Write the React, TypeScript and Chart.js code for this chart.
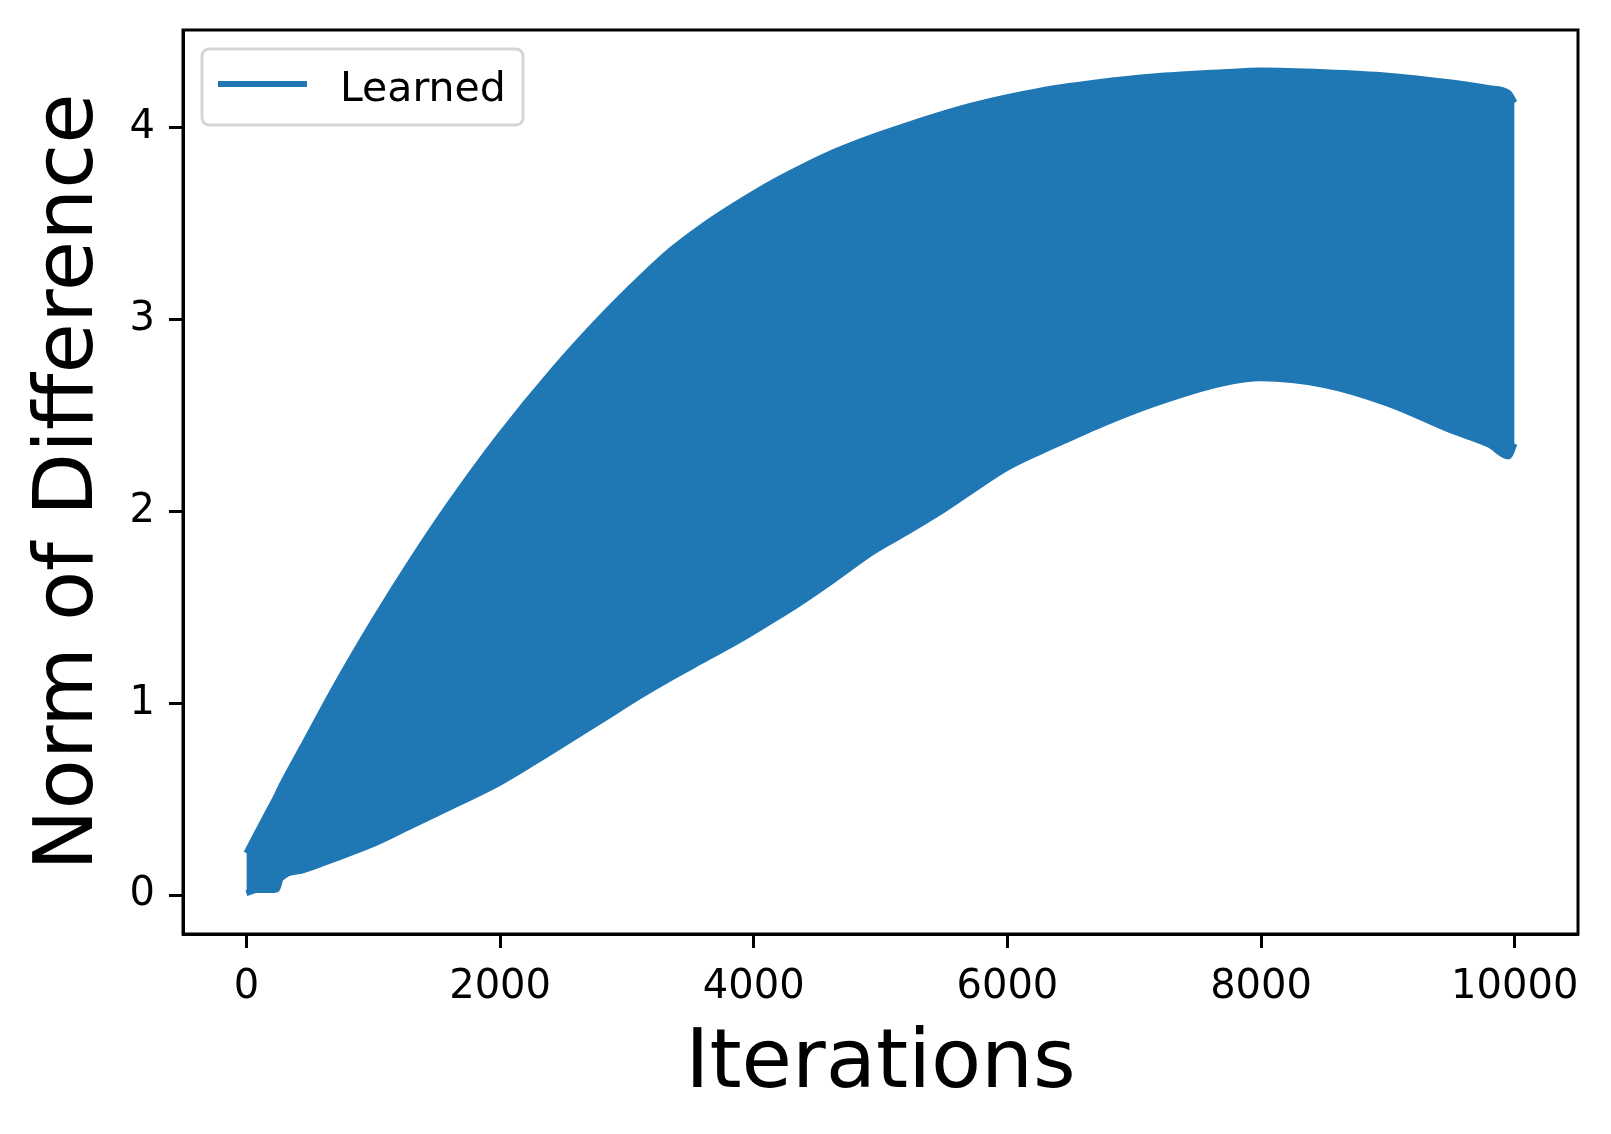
import React, { useEffect, useRef } from "react";
import { Chart, registerables } from "chart.js";

Chart.register(...registerables);

// ---- data (envelope of the oscillating "Learned" curve) ----
const iterations = [
  0, 80, 180, 240, 270, 440, 700, 1000, 1300, 1600, 2000, 2400, 2800, 3100, 3350,
  3600, 3900, 4150, 4400, 4650, 4950, 5200, 5450, 5700, 6000, 6250, 6500, 6700,
  7150, 7700, 8000, 8500, 9000, 9500, 9800, 9950, 9999,
];
const upperEdge = [
  0.218, 0.32, 0.445, 0.52, 0.562, 0.77, 1.086, 1.425, 1.742, 2.037, 2.397, 2.721,
  3.013, 3.211, 3.362, 3.487, 3.616, 3.714, 3.8, 3.877, 3.954, 4.01, 4.063, 4.111,
  4.158, 4.191, 4.217, 4.235, 4.266, 4.288, 4.297, 4.288, 4.27, 4.234, 4.205, 4.181,
  4.13,
];
const lowerEdge = [
  0.01, 0.026, 0.026, 0.03, 0.085, 0.128, 0.19, 0.266, 0.361, 0.456, 0.586, 0.746,
  0.911, 1.036, 1.133, 1.224, 1.333, 1.433, 1.538, 1.652, 1.793, 1.888, 1.988, 2.098,
  2.227, 2.308, 2.382, 2.441, 2.558, 2.667, 2.693, 2.658, 2.561, 2.421, 2.346, 2.286,
  2.352,
];
const xTickValues = [0, 2000, 4000, 6000, 8000, 10000];
const yTickValues = [0, 1, 2, 3, 4];
const seriesLabel = "Learned";
const xTitle = "Iterations";
const yTitle = "Norm of Difference";

const BLUE = "#1f77b4";
const FONT = "'DejaVu Sans', sans-serif";

export default function App() {
  const ref = useRef<HTMLCanvasElement>(null);

  useEffect(() => {
    document.body.style.margin = "0";
    const canvas = ref.current;
    if (!canvas) return;

    const framePlugin = {
      id: "axesFrame",
      afterDraw(chart: any) {
        const { ctx, chartArea } = chart;
        ctx.save();
        ctx.strokeStyle = "#000";
        ctx.lineWidth = 3;
        ctx.strokeRect(
          chartArea.left,
          chartArea.top,
          chartArea.right - chartArea.left,
          chartArea.bottom - chartArea.top
        );
        ctx.restore();
      },
    };

    const legendPlugin = {
      id: "mplLegend",
      afterDraw(chart: any) {
        const { ctx, chartArea } = chart;
        const ds = chart.data.datasets[0];
        const x0 = chartArea.left + 19;
        const y0 = chartArea.top + 19;
        const w = 321;
        const h = 76;
        ctx.save();
        ctx.beginPath();
        ctx.roundRect(x0, y0, w, h, 7);
        ctx.fillStyle = "rgba(255,255,255,0.8)";
        ctx.fill();
        ctx.lineWidth = 3;
        ctx.strokeStyle = "#d5d5d5";
        ctx.stroke();
        ctx.beginPath();
        ctx.moveTo(x0 + 16, y0 + 35);
        ctx.lineTo(x0 + 105, y0 + 35);
        ctx.lineWidth = 6;
        ctx.strokeStyle = ds.borderColor;
        ctx.stroke();
        ctx.fillStyle = "#000";
        ctx.font = `41px ${FONT}`;
        ctx.textBaseline = "alphabetic";
        ctx.textAlign = "left";
        ctx.fillText(ds.label, x0 + 138, y0 + 52);
        ctx.restore();
      },
    };

    const chart = new Chart(canvas, {
      type: "line",
      data: {
        datasets: [
          {
            label: seriesLabel,
            data: iterations.map((x, i) => ({ x, y: upperEdge[i] })),
            borderColor: BLUE,
            backgroundColor: BLUE,
            borderWidth: 6,
            pointRadius: 0,
            cubicInterpolationMode: "monotone",
            fill: "+1",
          },
          {
            label: "_lower",
            data: iterations.map((x, i) => ({ x, y: lowerEdge[i] })),
            borderColor: BLUE,
            backgroundColor: BLUE,
            borderWidth: 6,
            pointRadius: 0,
            cubicInterpolationMode: "monotone",
            fill: false,
          },
        ],
      },
      options: {
        responsive: false,
        animation: false,
        devicePixelRatio: 1,
        layout: { padding: { left: 0, top: 30, right: 33, bottom: 0 } },
        plugins: {
          legend: { display: false },
          tooltip: { enabled: false },
        },
        scales: {
          x: {
            type: "linear",
            position: "bottom",
            min: -500,
            max: 10499,
            afterFit: (s: any) => {
              s.height = 200;
              s.paddingLeft = 0;
              s.paddingRight = 0;
            },
            afterBuildTicks: (s: any) => {
              s.ticks = xTickValues.map((v) => ({ value: v }));
            },
            ticks: {
              color: "#000",
              font: { family: FONT, size: 40 },
              padding: 16,
              maxRotation: 0,
              autoSkip: false,
              callback: (v: any) => String(v),
            },
            grid: {
              drawOnChartArea: false,
              drawTicks: true,
              tickLength: 14,
              tickWidth: 3,
              tickColor: "#000",
            },
            border: { display: true, color: "#000", width: 3 },
            title: {
              display: true,
              text: xTitle,
              color: "#000",
              font: { family: FONT, size: 82 },
              padding: { top: 0, bottom: 19 },
            },
          },
          y: {
            type: "linear",
            position: "left",
            min: -0.203,
            max: 4.508,
            afterFit: (s: any) => {
              s.width = 183;
              s.paddingTop = 0;
              s.paddingBottom = 0;
            },
            afterBuildTicks: (s: any) => {
              s.ticks = yTickValues.map((v) => ({ value: v }));
            },
            ticks: {
              color: "#000",
              font: { family: FONT, size: 40 },
              padding: 14,
              autoSkip: false,
              callback: (v: any) => String(v),
            },
            grid: {
              drawOnChartArea: false,
              drawTicks: true,
              tickLength: 14,
              tickWidth: 3,
              tickColor: "#000",
            },
            border: { display: true, color: "#000", width: 3 },
            title: {
              display: true,
              text: yTitle,
              color: "#000",
              font: { family: FONT, size: 82 },
              padding: { top: 22, bottom: 0 },
            },
          },
        },
      },
      plugins: [framePlugin, legendPlugin],
    });

    return () => chart.destroy();
  }, []);

  return (
    <div style={{ width: 1611, height: 1134 }}>
      <canvas ref={ref} width={1611} height={1134} style={{ display: "block" }} />
    </div>
  );
}
